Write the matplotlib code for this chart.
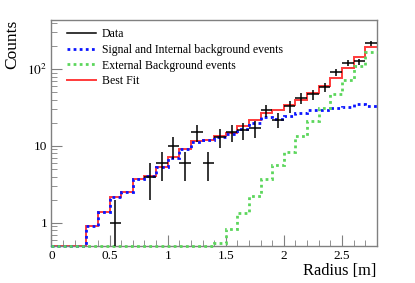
import numpy as np
import matplotlib
matplotlib.use("Agg")
import matplotlib.pyplot as plt
from matplotlib.lines import Line2D
from matplotlib.ticker import FixedLocator, FixedFormatter, MultipleLocator, FuncFormatter, LogLocator, NullFormatter

plt.rcParams['font.family'] = ['Liberation Serif', 'DejaVu Serif']
plt.rcParams['mathtext.fontset'] = 'stix'

# bin edges (radius in m)
edges = np.round(np.arange(0, 2.81, 0.1), 2)

# fitted components per bin
signal = [0, 0, 0, 0.9, 1.37, 2.18, 2.5, 3.7, 4.1, 5.35, 7.0, 9.1, 11.4, 11.8,
          13.0, 14.4, 16.5, 20, 23.5, 22.5, 24.6, 26.6, 29, 29, 31, 32, 34.8, 33.5]
external = [0, 0, 0, 0, 0, 0, 0, 0, 0, 0, 0, 0, 0, 0,
            0.55, 0.82, 1.33, 2.2, 3.7, 5.7, 8.4, 13.6, 20.9, 31, 47, 72, 110, 166]
best_fit = [0, 0, 0, 0.9, 1.37, 2.18, 2.5, 3.7, 4.1, 5.36, 7.1, 9.2, 11.5, 11.9,
            13.5, 14.9, 18, 22, 26.8, 29, 33.8, 39.6, 49, 60, 76, 102, 142, 196]

# observed counts per bin
data = [0, 0, 0, 0, 0, 1, 0, 0, 4, 6, 10, 6, 15, 6,
        13, 15, 16, 17, 29, 22, 33, 42, 47, 58, 92, 121, 126, 217]

ymin, ymax = 0.5, 435

fig = plt.figure(figsize=(4.15, 2.83), dpi=100)
ax = fig.add_axes([0.124, 0.131, 0.784, 0.798])

ax.set_yscale('log')
ax.set_xlim(0, 2.8)
ax.set_ylim(ymin, ymax)

red = '#ff3b3b'
blue = '#0a14ff'
green = '#5cd65c'

ax.stairs(np.clip(best_fit, ymin, None), edges, baseline=None, color=red, lw=1.4, clip_on=False, zorder=2)
ax.stairs(np.clip(signal, ymin, None), edges, baseline=None, color=blue, lw=2.0,
          linestyle=(0, (1, 1.2)), clip_on=False, zorder=3)
ax.stairs(np.clip(external, ymin, None), edges, baseline=None, color=green, lw=2.0,
          linestyle=(0, (1, 1.2)), clip_on=False, zorder=3)

centers = (edges[:-1] + edges[1:]) / 2
n = np.array(data, dtype=float)
mask = n > 0
err = np.sqrt(n[mask])
low = n[mask] - np.maximum(n[mask] - err, 1e-3)
ax.errorbar(centers[mask], n[mask], xerr=0.05, yerr=[low, err], fmt='none',
            ecolor='black', elinewidth=1.1, capsize=0, zorder=4)

# ROOT-like axes
for s in ax.spines.values():
    s.set_color('#808080')
    s.set_linewidth(1.0)
ax.tick_params(which='both', direction='in', color='#808080', top=False, right=False,
               labelsize=9.5, pad=3)
ax.tick_params(which='major', length=8)
ax.tick_params(which='minor', length=4)
ax.xaxis.set_major_locator(MultipleLocator(0.5))
ax.xaxis.set_minor_locator(MultipleLocator(0.1))
ax.xaxis.set_major_formatter(FuncFormatter(lambda v, p: '%g' % v))
ax.yaxis.set_major_locator(FixedLocator([1, 10, 100]))
ax.yaxis.set_major_formatter(FixedFormatter(['1', '10', '$10^{2}$']))
ax.yaxis.set_minor_locator(LogLocator(base=10, subs=np.arange(2, 10)))
ax.yaxis.set_minor_formatter(NullFormatter())

ax.set_xlabel('Radius [m]', fontsize=11.8, loc='right', labelpad=1)
ax.set_ylabel('Counts', fontsize=12.5, loc='top', labelpad=5)

handles = [
    Line2D([], [], color='black', lw=1.1),
    Line2D([], [], color=blue, lw=2.0, linestyle=(0, (1, 1.2))),
    Line2D([], [], color=green, lw=2.0, linestyle=(0, (1, 1.2))),
    Line2D([], [], color=red, lw=1.4),
]
labels = ['Data', 'Signal and Internal background events', 'External Background events', 'Best Fit']
ax.legend(handles, labels, loc='upper left', bbox_to_anchor=(0.025, 1.0), frameon=False,
          fontsize=8.5, handlelength=2.4, handletextpad=0.5, labelspacing=0.33,
          borderaxespad=0.25)

fig.savefig('out.png', dpi=100)
